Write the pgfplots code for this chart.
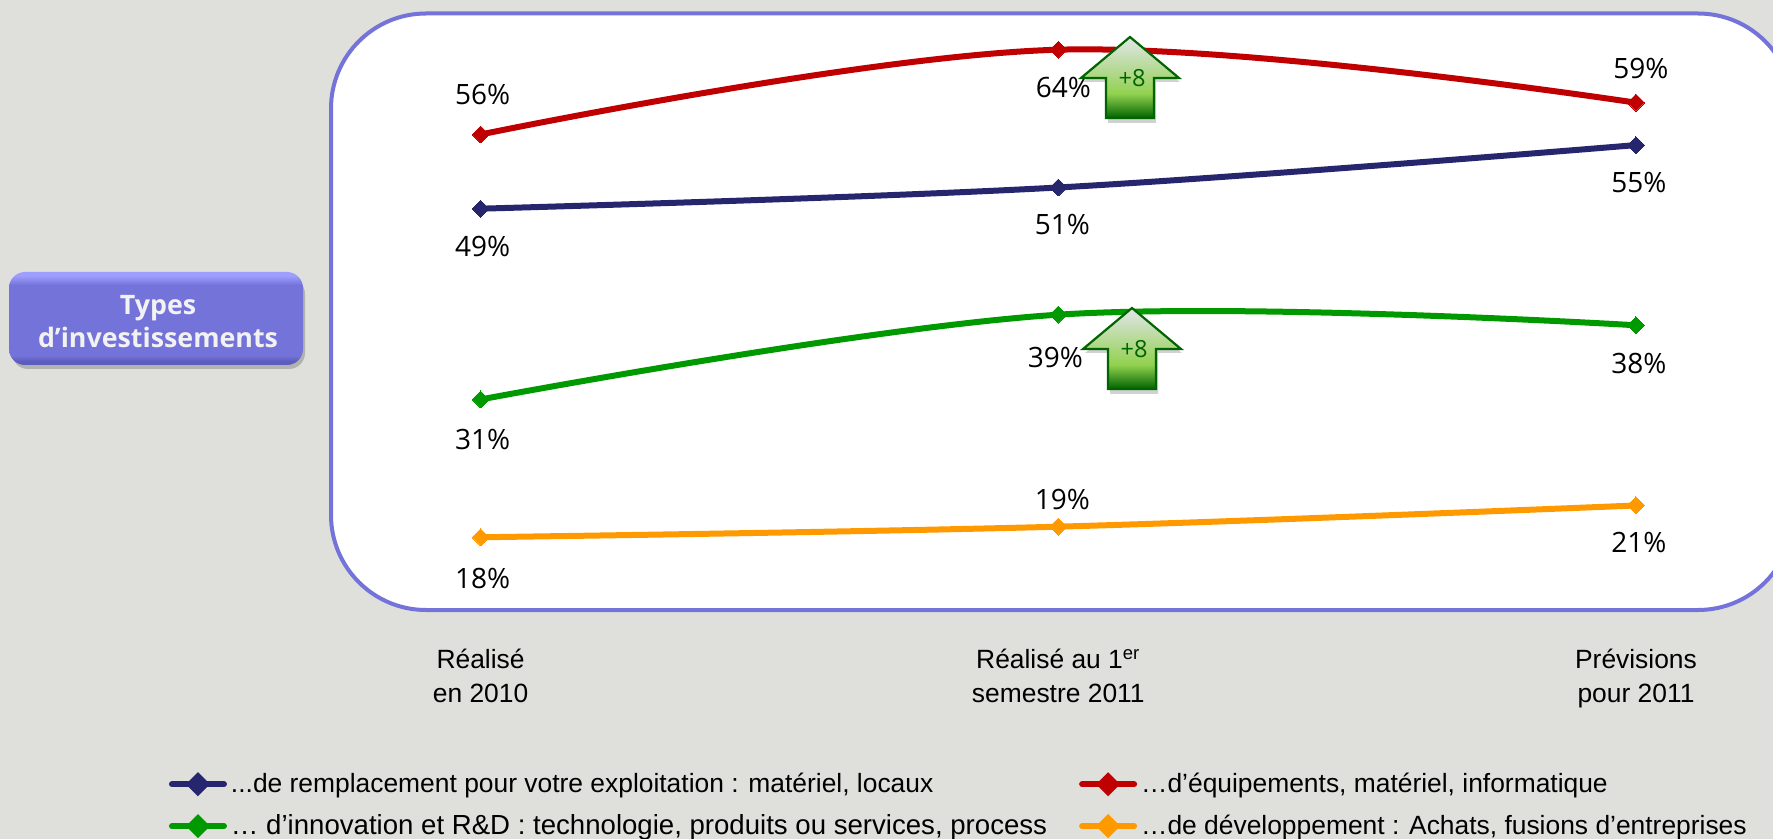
\documentclass[border=0pt]{standalone}
\usepackage{pgfplots}
\pgfplotsset{compat=1.18}
\usepackage{fontspec}
\setmainfont{Liberation Sans}
\newfontfamily\lab{Open Sans}
\definecolor{bgc}{HTML}{DFE0DB}
\definecolor{frame}{HTML}{7373D9}
\definecolor{cblue}{HTML}{26266F}
\definecolor{cred}{HTML}{C00000}
\definecolor{cgreen}{HTML}{009900}
\definecolor{corange}{HTML}{FF9900}
\definecolor{agreen}{HTML}{006400}
\pgfdeclareverticalshading{arrowsh}{100bp}{rgb(0bp)=(0,0.39,0); rgb(25bp)=(0,0.39,0); rgb(40bp)=(0.57,0.82,0.31); rgb(75bp)=(0.89,0.90,0.92); rgb(100bp)=(0.89,0.90,0.92)}
\pgfdeclareverticalshading{btnsh}{100bp}{rgb(0bp)=(0.36,0.36,0.75); rgb(27bp)=(0.36,0.36,0.75); rgb(30bp)=(0.45,0.45,0.85); rgb(68bp)=(0.45,0.45,0.85); rgb(73bp)=(0.62,0.62,1); rgb(100bp)=(0.62,0.62,1)}
\newcommand{\lbl}[5]{\node[font=\lab\fontsize{14pt}{16pt}\selectfont,inner sep=0pt,text=black,xshift=#3*0.5pt,yshift=#4*0.5pt] at (axis cs:#1,#2) {#5\%};}
\newcommand{\uparrowshape}[2]{%
 \begin{scope}[shift={(#1,#2)}]
  \fill[black,opacity=0.18] (1,5)--(50,45)--(26,45)--(26,86)--(-22,86)--(-22,45)--(-47,45)--cycle;
  \path[shading=arrowsh,draw=agreen,line width=1.1pt]
   (0,0)--(49,41)--(24,41)--(24,81)--(-24,81)--(-24,41)--(-49,41)--cycle;
  \node[text=agreen,font=\lab\fontsize{11.8pt}{13pt}\selectfont,inner sep=0pt] at (2,41) {+8};
 \end{scope}}
\tikzset{ser/.style={#1,line width=3pt,smooth,tension=0.6,mark=square*,mark size=3pt,mark options={solid,fill=#1,draw=none,line width=0pt,rotate=45}}}
\begin{document}
\begin{tikzpicture}[x=0.5pt,y=-0.5pt]
\useasboundingbox (0,0) rectangle (1773,839);
\fill[bgc] (0,0) rectangle (1773,839);
\begin{scope}
\clip (0,0) rectangle (1773,839);
\draw[frame,line width=2pt,fill=white,rounded corners=47.5pt] (331,13.5) rectangle (1793,610);
\end{scope}
\fill[black,opacity=0.2,rounded corners=8pt] (12,278) rectangle (305,369);
\path[shading=btnsh,rounded corners=8pt] (9,272) rectangle (303,365);
\node[align=center,text=white!95!black,font=\lab\bfseries\fontsize{13.4pt}{16.5pt}\selectfont,inner sep=0pt] at (158,322) {Types\\d’investissements};
\begin{axis}[
  at={(0pt,-315pt)},anchor=south west,
  scale only axis,width=886.5pt,height=315pt,
  xmin=-0.8319,xmax=2.2372,ymin=9.25,ymax=68.69,
  clip=false,
  axis line style={draw=none},
  tick style={draw=none},
  xtick={0,1,2},
  xticklabels={{Réalisé\\en 2010},{Réalisé au 1\textsuperscript{er}\\semestre 2011},{Prévisions\\pour 2011}},
  xticklabel style={align=center,font=\fontsize{13.2pt}{17pt}\selectfont,text=black,yshift=-5.9pt},
  ytick=\empty,
  legend columns=2,
  legend cell align=left,
  legend style={at={(169/1773,{(630-769)/630})},anchor=north west,draw=none,fill=none,inner sep=0pt,outer sep=0pt,
    font=\fontsize{13.2pt}{15pt}\selectfont,row sep=5.6pt,
    /tikz/every even column/.append style={column sep=14pt}},
  legend image code/.code={
    \draw[#1,line width=3pt,mark=none,line cap=round] (0pt,0pt)--(26pt,0pt);
    \fill[#1] (13pt,3.9pt)--(16.9pt,0pt)--(13pt,-3.9pt)--(9.1pt,0pt)--cycle;
  },
]
\addplot[ser=cblue] coordinates {(0,49)(1,51)(2,55)};
\addlegendentry{...de remplacement pour votre exploitation : matériel, locaux}
\addplot[ser=cred] coordinates {(0,56)(1,64)(2,59)};
\addlegendentry{…d’équipements, matériel, informatique}
\addplot[ser=cgreen] coordinates {(0,31)(1,39)(2,38)};
\addlegendentry{\fontsize{13.8pt}{15pt}\selectfont … d’innovation et R\&D : technologie, produits ou services, process}
\addplot[ser=corange] coordinates {(0,18)(1,19)(2,21)};
\addlegendentry{…de développement : Achats, fusions d’entreprises}
\lbl{0}{56}{2}{40}{56}
\lbl{0}{49}{2}{-38}{49}
\lbl{0}{31}{2}{-40}{31}
\lbl{0}{18}{2}{-41}{18}
\lbl{1}{64}{5}{-38}{64}
\lbl{1}{51}{4}{-37}{51}
\lbl{1}{39}{-3}{-43}{39}
\lbl{1}{19}{4}{27}{19}
\lbl{2}{59}{5}{34}{59}
\lbl{2}{55}{3}{-37}{55}
\lbl{2}{38}{3}{-38}{38}
\lbl{2}{21}{3}{-37}{21}
\end{axis}
\uparrowshape{1130}{37}
\uparrowshape{1132}{308}
\end{tikzpicture}
\end{document}
